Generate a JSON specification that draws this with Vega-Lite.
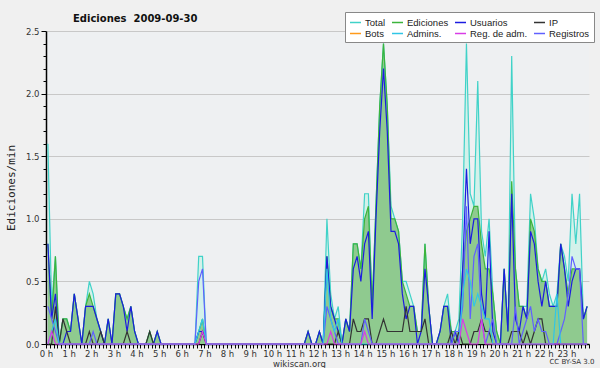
{
"$schema": "https://vega.github.io/schema/vega-lite/v6.json",
"background": "#f0f0f0",
"padding": {"left": 5, "top": 11, "right": 5, "bottom": 0},
"title": {"text": "CC BY-SA 3.0", "orient": "bottom", "anchor": "end", "fontSize": 7, "font": "DejaVu Sans", "fontWeight": "normal", "color": "#333333", "offset": -10},
"config": {"view": {"stroke": null, "fill": "#eef0f2"}},
"vconcat": [{
"title": {"text": "Ediciones\u00a0 2009-09-30", "anchor": "start", "frame": "group", "dx": 27, "offset": 3, "fontSize": 10, "font": "DejaVu Sans", "fontWeight": "bold", "color": "#111111"},
"width": 543,
"height": 313,
"data": {"values": [
{"t":5,"T":1.6,"E":0.8,"U":0.8,"P":0,"R":0.3,"A":0,"M":0},
{"t":15,"T":0.3,"E":0.2,"U":0.2,"P":0,"R":0.2,"A":0.1,"M":0.1},
{"t":25,"T":0.7,"E":0.7,"U":0.4,"P":0.3,"R":0.1,"A":0.2,"M":0},
{"t":35,"T":0,"E":0,"U":0,"P":0,"R":0,"A":0,"M":0},
{"t":45,"T":0.2,"E":0.2,"U":0,"P":0.2,"R":0,"A":0,"M":0},
{"t":55,"T":0.2,"E":0.2,"U":0.1,"P":0.1,"R":0,"A":0,"M":0},
{"t":65,"T":0.1,"E":0.1,"U":0.1,"P":0,"R":0,"A":0,"M":0},
{"t":75,"T":0.4,"E":0.4,"U":0.4,"P":0,"R":0,"A":0,"M":0},
{"t":85,"T":0.2,"E":0.2,"U":0.2,"P":0,"R":0,"A":0,"M":0},
{"t":95,"T":0,"E":0,"U":0,"P":0,"R":0,"A":0,"M":0},
{"t":105,"T":0.3,"E":0.3,"U":0.3,"P":0,"R":0,"A":0,"M":0},
{"t":115,"T":0.5,"E":0.4,"U":0.3,"P":0.1,"R":0,"A":0,"M":0},
{"t":125,"T":0.4,"E":0.3,"U":0.3,"P":0,"R":0.1,"A":0,"M":0},
{"t":135,"T":0.2,"E":0.2,"U":0.2,"P":0,"R":0,"A":0,"M":0},
{"t":145,"T":0.1,"E":0.1,"U":0.1,"P":0.1,"R":0,"A":0,"M":0},
{"t":155,"T":0,"E":0,"U":0,"P":0,"R":0,"A":0,"M":0},
{"t":165,"T":0.2,"E":0.2,"U":0.2,"P":0,"R":0,"A":0,"M":0},
{"t":175,"T":0,"E":0,"U":0,"P":0,"R":0,"A":0,"M":0},
{"t":185,"T":0.4,"E":0.4,"U":0.4,"P":0,"R":0,"A":0,"M":0},
{"t":195,"T":0.4,"E":0.4,"U":0.4,"P":0,"R":0,"A":0,"M":0},
{"t":205,"T":0.3,"E":0.3,"U":0.3,"P":0,"R":0,"A":0,"M":0},
{"t":215,"T":0.2,"E":0.2,"U":0.1,"P":0.1,"R":0,"A":0,"M":0},
{"t":225,"T":0.3,"E":0.3,"U":0.3,"P":0,"R":0,"A":0,"M":0},
{"t":235,"T":0.1,"E":0.1,"U":0.1,"P":0,"R":0,"A":0,"M":0},
{"t":245,"T":0,"E":0,"U":0,"P":0,"R":0,"A":0,"M":0},
{"t":255,"T":0,"E":0,"U":0,"P":0,"R":0,"A":0,"M":0},
{"t":265,"T":0,"E":0,"U":0,"P":0,"R":0,"A":0,"M":0},
{"t":275,"T":0.1,"E":0.1,"U":0,"P":0.1,"R":0,"A":0,"M":0},
{"t":285,"T":0,"E":0,"U":0,"P":0,"R":0,"A":0,"M":0},
{"t":295,"T":0.1,"E":0.1,"U":0.1,"P":0,"R":0,"A":0,"M":0},
{"t":305,"T":0,"E":0,"U":0,"P":0,"R":0,"A":0,"M":0},
{"t":315,"T":0,"E":0,"U":0,"P":0,"R":0,"A":0,"M":0},
{"t":325,"T":0,"E":0,"U":0,"P":0,"R":0,"A":0,"M":0},
{"t":335,"T":0,"E":0,"U":0,"P":0,"R":0,"A":0,"M":0},
{"t":345,"T":0,"E":0,"U":0,"P":0,"R":0,"A":0,"M":0},
{"t":355,"T":0,"E":0,"U":0,"P":0,"R":0,"A":0,"M":0},
{"t":365,"T":0,"E":0,"U":0,"P":0,"R":0,"A":0,"M":0},
{"t":375,"T":0,"E":0,"U":0,"P":0,"R":0,"A":0,"M":0},
{"t":385,"T":0,"E":0,"U":0,"P":0,"R":0,"A":0,"M":0},
{"t":395,"T":0,"E":0,"U":0,"P":0,"R":0,"A":0,"M":0},
{"t":405,"T":0.7,"E":0.1,"U":0.1,"P":0,"R":0.5,"A":0.1,"M":0},
{"t":415,"T":0.7,"E":0.2,"U":0.1,"P":0.1,"R":0.6,"A":0.2,"M":0.1},
{"t":425,"T":0,"E":0,"U":0,"P":0,"R":0,"A":0,"M":0},
{"t":435,"T":0,"E":0,"U":0,"P":0,"R":0,"A":0,"M":0},
{"t":445,"T":0,"E":0,"U":0,"P":0,"R":0,"A":0,"M":0},
{"t":455,"T":0,"E":0,"U":0,"P":0,"R":0,"A":0,"M":0},
{"t":465,"T":0,"E":0,"U":0,"P":0,"R":0,"A":0,"M":0},
{"t":475,"T":0,"E":0,"U":0,"P":0,"R":0,"A":0,"M":0},
{"t":485,"T":0,"E":0,"U":0,"P":0,"R":0,"A":0,"M":0},
{"t":495,"T":0,"E":0,"U":0,"P":0,"R":0,"A":0,"M":0},
{"t":505,"T":0,"E":0,"U":0,"P":0,"R":0,"A":0,"M":0},
{"t":515,"T":0,"E":0,"U":0,"P":0,"R":0,"A":0,"M":0},
{"t":525,"T":0,"E":0,"U":0,"P":0,"R":0,"A":0,"M":0},
{"t":535,"T":0,"E":0,"U":0,"P":0,"R":0,"A":0,"M":0},
{"t":545,"T":0,"E":0,"U":0,"P":0,"R":0,"A":0,"M":0},
{"t":555,"T":0,"E":0,"U":0,"P":0,"R":0,"A":0,"M":0},
{"t":565,"T":0,"E":0,"U":0,"P":0,"R":0,"A":0,"M":0},
{"t":575,"T":0,"E":0,"U":0,"P":0,"R":0,"A":0,"M":0},
{"t":585,"T":0,"E":0,"U":0,"P":0,"R":0,"A":0,"M":0},
{"t":595,"T":0,"E":0,"U":0,"P":0,"R":0,"A":0,"M":0},
{"t":605,"T":0,"E":0,"U":0,"P":0,"R":0,"A":0,"M":0},
{"t":615,"T":0,"E":0,"U":0,"P":0,"R":0,"A":0,"M":0},
{"t":625,"T":0,"E":0,"U":0,"P":0,"R":0,"A":0,"M":0},
{"t":635,"T":0,"E":0,"U":0,"P":0,"R":0,"A":0,"M":0},
{"t":645,"T":0,"E":0,"U":0,"P":0,"R":0,"A":0,"M":0},
{"t":655,"T":0,"E":0,"U":0,"P":0,"R":0,"A":0,"M":0},
{"t":665,"T":0,"E":0,"U":0,"P":0,"R":0,"A":0,"M":0},
{"t":675,"T":0,"E":0,"U":0,"P":0,"R":0,"A":0,"M":0},
{"t":685,"T":0,"E":0,"U":0,"P":0,"R":0,"A":0,"M":0},
{"t":695,"T":0.1,"E":0.1,"U":0.1,"P":0,"R":0,"A":0,"M":0},
{"t":705,"T":0,"E":0,"U":0,"P":0,"R":0,"A":0,"M":0},
{"t":715,"T":0,"E":0,"U":0,"P":0,"R":0,"A":0,"M":0},
{"t":725,"T":0.1,"E":0.1,"U":0.1,"P":0,"R":0,"A":0,"M":0},
{"t":735,"T":0,"E":0,"U":0,"P":0,"R":0,"A":0,"M":0},
{"t":745,"T":1.0,"E":0.7,"U":0.7,"P":0,"R":0.3,"A":0.6,"M":0},
{"t":755,"T":0.4,"E":0.3,"U":0.3,"P":0,"R":0.2,"A":0.2,"M":0.1},
{"t":765,"T":0.2,"E":0.2,"U":0.2,"P":0,"R":0.1,"A":0.1,"M":0},
{"t":775,"T":0.3,"E":0.2,"U":0.1,"P":0.1,"R":0,"A":0.2,"M":0},
{"t":785,"T":0,"E":0,"U":0,"P":0,"R":0,"A":0,"M":0},
{"t":795,"T":0.2,"E":0.2,"U":0.2,"P":0,"R":0,"A":0,"M":0},
{"t":805,"T":0.1,"E":0.1,"U":0.1,"P":0,"R":0,"A":0,"M":0},
{"t":815,"T":0.8,"E":0.8,"U":0.6,"P":0.2,"R":0,"A":0,"M":0},
{"t":825,"T":0.8,"E":0.8,"U":0.7,"P":0.1,"R":0,"A":0,"M":0},
{"t":835,"T":0.6,"E":0.6,"U":0.5,"P":0.1,"R":0,"A":0,"M":0},
{"t":845,"T":1.2,"E":1.0,"U":0.8,"P":0.2,"R":0.2,"A":0,"M":0.1},
{"t":855,"T":1.2,"E":1.1,"U":0.9,"P":0.2,"R":0.1,"A":0,"M":0},
{"t":865,"T":0.3,"E":0.3,"U":0.2,"P":0,"R":0,"A":0,"M":0},
{"t":875,"T":1.1,"E":1.1,"U":1.0,"P":0,"R":0,"A":0,"M":0},
{"t":885,"T":1.9,"E":1.9,"U":1.7,"P":0.1,"R":0,"A":0,"M":0},
{"t":895,"T":2.4,"E":2.4,"U":2.2,"P":0.2,"R":0,"A":0,"M":0},
{"t":905,"T":1.9,"E":1.9,"U":1.7,"P":0.1,"R":0,"A":0,"M":0},
{"t":915,"T":1.1,"E":1.0,"U":0.9,"P":0.1,"R":0,"A":0,"M":0},
{"t":925,"T":1.0,"E":1.0,"U":0.9,"P":0.1,"R":0,"A":0,"M":0},
{"t":935,"T":0.9,"E":0.9,"U":0.8,"P":0.1,"R":0,"A":0,"M":0},
{"t":945,"T":0.5,"E":0.5,"U":0.4,"P":0.1,"R":0,"A":0,"M":0},
{"t":955,"T":0.5,"E":0.4,"U":0.2,"P":0.3,"R":0,"A":0,"M":0},
{"t":965,"T":0.4,"E":0.3,"U":0.3,"P":0.1,"R":0,"A":0,"M":0},
{"t":975,"T":0.3,"E":0.3,"U":0.3,"P":0.1,"R":0,"A":0,"M":0},
{"t":985,"T":0.1,"E":0.1,"U":0,"P":0.1,"R":0,"A":0,"M":0},
{"t":995,"T":0.1,"E":0.1,"U":0.1,"P":0.1,"R":0,"A":0,"M":0},
{"t":1005,"T":0.8,"E":0.8,"U":0.6,"P":0.2,"R":0,"A":0,"M":0},
{"t":1015,"T":0.3,"E":0.3,"U":0.3,"P":0,"R":0,"A":0,"M":0},
{"t":1025,"T":0,"E":0,"U":0,"P":0,"R":0,"A":0,"M":0},
{"t":1035,"T":0,"E":0,"U":0,"P":0,"R":0,"A":0,"M":0},
{"t":1045,"T":0.1,"E":0.1,"U":0.1,"P":0,"R":0,"A":0,"M":0},
{"t":1055,"T":0.3,"E":0.3,"U":0.3,"P":0,"R":0,"A":0,"M":0},
{"t":1065,"T":0.4,"E":0.3,"U":0.3,"P":0,"R":0,"A":0,"M":0},
{"t":1075,"T":0.1,"E":0.1,"U":0,"P":0.1,"R":0,"A":0,"M":0},
{"t":1085,"T":0.1,"E":0.1,"U":0.1,"P":0,"R":0.1,"A":0,"M":0},
{"t":1095,"T":0.2,"E":0.1,"U":0,"P":0.1,"R":0.1,"A":0,"M":0},
{"t":1105,"T":1.0,"E":0.6,"U":0.6,"P":0,"R":0.3,"A":0.4,"M":0.2},
{"t":1115,"T":2.4,"E":0.9,"U":1.4,"P":0,"R":1.1,"A":0.6,"M":0.1},
{"t":1125,"T":1.2,"E":1.0,"U":0.8,"P":0,"R":0.2,"A":0.5,"M":0},
{"t":1135,"T":1.1,"E":1.1,"U":1.0,"P":0.1,"R":0.7,"A":0.3,"M":0},
{"t":1145,"T":2.1,"E":1.1,"U":1.0,"P":0.1,"R":0.8,"A":0.4,"M":0},
{"t":1155,"T":0.9,"E":0.8,"U":0.4,"P":0.2,"R":0.2,"A":0.3,"M":0.2},
{"t":1165,"T":0.7,"E":0.6,"U":0.2,"P":0.1,"R":0,"A":0.2,"M":0},
{"t":1175,"T":1.0,"E":0.6,"U":0.9,"P":0.1,"R":0.1,"A":0.2,"M":0},
{"t":1185,"T":0.4,"E":0.4,"U":0.1,"P":0,"R":0.2,"A":0,"M":0},
{"t":1195,"T":0.1,"E":0.1,"U":0,"P":0,"R":0,"A":0,"M":0},
{"t":1205,"T":0,"E":0,"U":0,"P":0,"R":0,"A":0,"M":0},
{"t":1215,"T":0.6,"E":0.6,"U":0.6,"P":0,"R":0,"A":0,"M":0},
{"t":1225,"T":0.1,"E":0.1,"U":0.1,"P":0,"R":0,"A":0,"M":0},
{"t":1235,"T":2.3,"E":1.3,"U":1.2,"P":0.1,"R":0,"A":0,"M":0},
{"t":1245,"T":0.6,"E":0.6,"U":0.2,"P":0.1,"R":0.3,"A":0,"M":0},
{"t":1255,"T":0.3,"E":0.3,"U":0.1,"P":0.1,"R":0,"A":0,"M":0},
{"t":1265,"T":0.3,"E":0.3,"U":0.3,"P":0,"R":0.1,"A":0,"M":0},
{"t":1275,"T":0.3,"E":0.2,"U":0.2,"P":0.1,"R":0.2,"A":0,"M":0},
{"t":1285,"T":1.2,"E":1.0,"U":0.9,"P":0,"R":0.3,"A":0,"M":0},
{"t":1295,"T":1.0,"E":0.9,"U":0.8,"P":0.1,"R":0.1,"A":0,"M":0},
{"t":1305,"T":0.6,"E":0.6,"U":0.5,"P":0.2,"R":0.2,"A":0,"M":0},
{"t":1315,"T":0.5,"E":0.5,"U":0.3,"P":0.2,"R":0.1,"A":0,"M":0},
{"t":1325,"T":0.6,"E":0.5,"U":0.5,"P":0,"R":0.1,"A":0,"M":0},
{"t":1335,"T":0.4,"E":0.3,"U":0.3,"P":0,"R":0,"A":0,"M":0},
{"t":1345,"T":0.3,"E":0.3,"U":0.3,"P":0,"R":0,"A":0,"M":0},
{"t":1355,"T":0.4,"E":0.3,"U":0.3,"P":0,"R":0,"A":0.4,"M":0},
{"t":1365,"T":0.8,"E":0.8,"U":0.8,"P":0,"R":0.1,"A":0,"M":0},
{"t":1375,"T":0.7,"E":0.6,"U":0.6,"P":0,"R":0.2,"A":0,"M":0},
{"t":1385,"T":0.5,"E":0.4,"U":0.3,"P":0,"R":0.4,"A":0,"M":0},
{"t":1395,"T":1.2,"E":0.6,"U":0.5,"P":0,"R":0.7,"A":0,"M":0},
{"t":1405,"T":0.8,"E":0.6,"U":0.6,"P":0,"R":0.6,"A":0,"M":0},
{"t":1415,"T":1.2,"E":0.6,"U":0.6,"P":0,"R":0.6,"A":0,"M":0},
{"t":1425,"T":0.2,"E":0.2,"U":0.2,"P":0,"R":0,"A":0,"M":0},
{"t":1435,"T":0.3,"E":0.3,"U":0.3,"P":0,"R":0,"A":0,"M":0}
]},
"transform": [{"fold": ["T","E","U","P","R","A","M"], "as": ["k","v"]}],
"encoding": {
  "x": {"field": "t", "type": "quantitative",
    "scale": {"domain": [0, 1440], "nice": false, "zero": false},
    "axis": {"title": "wikiscan.org", "titleFont": "DejaVu Sans", "titleFontSize": 8.5, "titleFontWeight": "normal", "titleColor": "#333333", "titleX": 253, "titlePadding": 2,
      "tickCount": 144, "labelExpr": "datum.value % 60 == 0 && datum.value < 1440 ? (datum.value/60) + ' h' : ''",
      "labelOverlap": false, "labelBound": false, "labelFlush": false, "labelFont": "DejaVu Sans", "labelFontSize": 8.5, "labelColor": "#333333", "labelPadding": 1,
      "tickSize": 4, "tickColor": "#000000", "domainColor": "#000000", "domainWidth": 1.5, "grid": false}},
  "y": {"field": "v", "type": "quantitative",
    "scale": {"domain": [0, 2.5], "nice": false},
    "axis": {"title": "Ediciones/min", "titleFont": "DejaVu Sans Mono", "titleFontSize": 11, "titleFontWeight": "normal", "titleColor": "#222222", "titlePadding": 9,
      "tickCount": 25,
      "labelExpr": "abs(datum.value*2 - round(datum.value*2)) < 0.001 ? format(datum.value, '.1f') : ''",
      "labelOverlap": false, "labelBound": false, "labelFont": "DejaVu Sans", "labelFontSize": 8.5, "labelColor": "#333333", "labelPadding": 2,
      "tickColor": "#000000",
      "tickSize": {"condition": {"test": "abs(datum.value*2 - round(datum.value*2)) < 0.001", "value": 5}, "value": 3},
      "domainColor": "#000000", "domainWidth": 1.5,
      "grid": true, "gridColor": "#c8c8c8",
      "gridOpacity": {"condition": {"test": "abs(datum.value*2 - round(datum.value*2)) < 0.001", "value": 1}, "value": 0}}}
},
"layer": [
  {"transform": [{"filter": "datum.k == 'T'"}], "mark": {"type": "area", "fill": "#d3f1ea"}},
  {"transform": [{"filter": "datum.k == 'E'"}], "mark": {"type": "area", "fill": "#8fca8f"}},
  {"mark": {"type": "line", "strokeWidth": 1.2},
   "encoding": {"color": {"field": "k", "type": "nominal",
     "scale": {"domain": ["T","E","U","P","B","A","M","R"], "range": ["#40d2c8","#3cb43c","#1c1ce0","#333333","#ff9a1a","#30c6e6","#d83ce6","#6060ff"]},
     "legend": {"title": null, "orient": "none", "legendX": 299, "legendY": -19, "columns": 4, "direction": "horizontal",
       "symbolType": "stroke", "symbolSize": 121, "symbolStrokeWidth": 1.5,
       "labelFont": "Liberation Sans", "labelFontSize": 9.5, "labelColor": "#222222", "labelOffset": 3,
       "columnPadding": 3, "rowPadding": -2, "padding": 4, "fillColor": "#ffffff", "strokeColor": "#888888",
       "labelExpr": "datum.label == 'T' ? 'Total' : datum.label == 'E' ? 'Ediciones' : datum.label == 'U' ? 'Usuarios' : datum.label == 'P' ? 'IP' : datum.label == 'B' ? 'Bots' : datum.label == 'A' ? 'Admins.' : datum.label == 'M' ? 'Reg. de adm.' : 'Registros'"}}}}
]
}]
}
